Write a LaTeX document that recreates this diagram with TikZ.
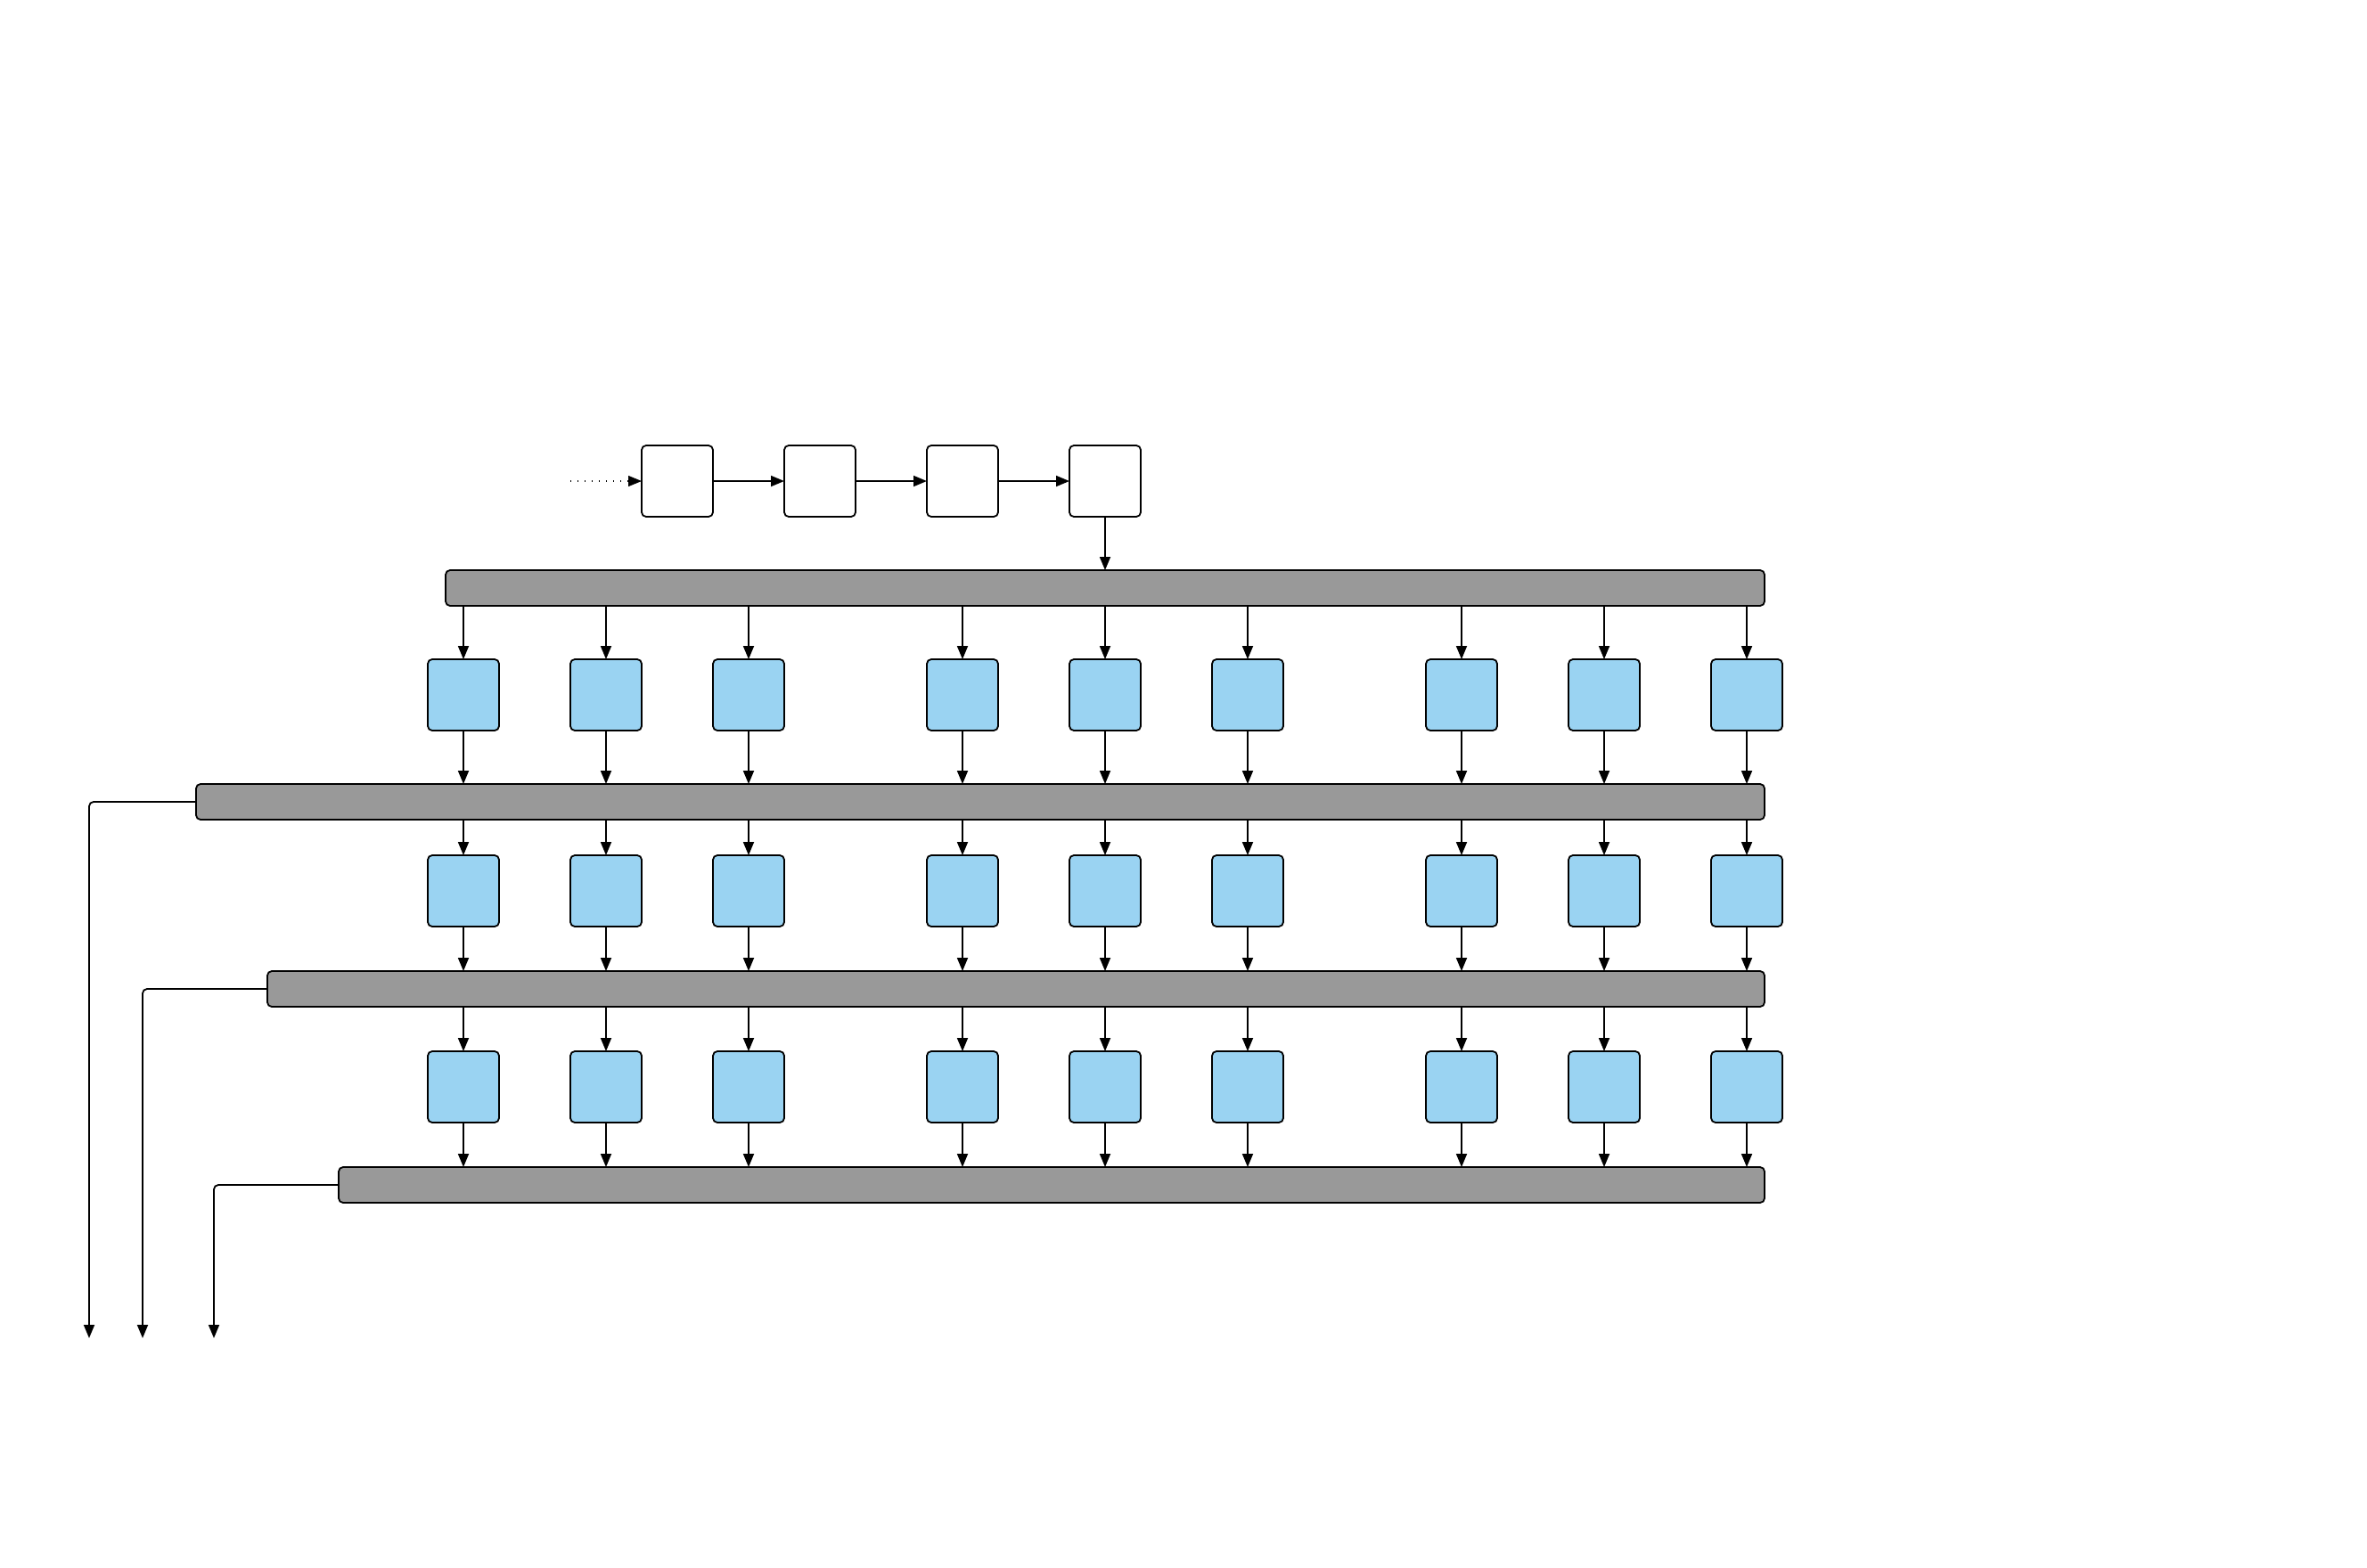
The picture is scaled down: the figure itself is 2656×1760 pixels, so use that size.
\documentclass[tikz,border=0pt]{standalone}
\usetikzlibrary{arrows.meta}
\definecolor{cellblue}{RGB}{154,211,242}
\definecolor{bargray}{RGB}{153,153,153}
\tikzset{
  x=0.5pt, y=-0.5pt,
  every node/.style={inner sep=0pt, outer sep=0pt},
  ln/.style={line width=0.9pt},
  arr/.style={ln, -{Triangle[length=7.5pt,width=6pt]}},
  whitebox/.style={draw, ln, fill=white, rounded corners=2.5pt, minimum width=40pt, minimum height=40pt},
  cell/.style={draw, ln, fill=cellblue, rounded corners=2.5pt, minimum width=40pt, minimum height=40pt},
  bar/.style={draw, ln, fill=bargray, rounded corners=2.5pt, minimum height=20pt},
}
\begin{document}
\begin{tikzpicture}
\useasboundingbox (0,0) rectangle (2656,1760);
% top chain
\coordinate (start) at (640,540);
\node[whitebox] (t1) at (760,540) {};
\node[whitebox] (t2) at (920,540) {};
\node[whitebox] (t3) at (1080,540) {};
\node[whitebox] (t4) at (1240,540) {};
\draw[arr, line width=0.6pt, dash pattern=on 0.6pt off 3.4pt] (start) -- (t1.west);
\draw[arr] (t1) -- (t2);
\draw[arr] (t2) -- (t3);
\draw[arr] (t3) -- (t4);
% bars
\node[bar, minimum width=740pt] (bar1) at (1240,660) {};
\node[bar, minimum width=880pt] (bar2) at (1100,900) {};
\node[bar, minimum width=840pt] (bar3) at (1140,1110) {};
\node[bar, minimum width=800pt] (bar4) at (1180,1330) {};
\draw[arr] (t4.south) -- (t4.south |- bar1.north);
% cells
\foreach \c/\xx in {1/520,2/680,3/840,4/1080,5/1240,6/1400,7/1640,8/1800,9/1960}{
  \node[cell] (a\c) at (\xx,780) {};
  \node[cell] (b\c) at (\xx,1000) {};
  \node[cell] (c\c) at (\xx,1220) {};
  \draw[arr] (a\c.north |- bar1.south) -- (a\c.north);
  \draw[arr] (a\c.south) -- (a\c.south |- bar2.north);
  \draw[arr] (b\c.north |- bar2.south) -- (b\c.north);
  \draw[arr] (b\c.south) -- (b\c.south |- bar3.north);
  \draw[arr] (c\c.north |- bar3.south) -- (c\c.north);
  \draw[arr] (c\c.south) -- (c\c.south |- bar4.north);
}
% outputs
\coordinate (o1) at (100,1502);
\coordinate (o2) at (160,1502);
\coordinate (o3) at (240,1502);
\draw[arr, rounded corners=2.5pt] (bar2.west) -| (o1);
\draw[arr, rounded corners=2.5pt] (bar3.west) -| (o2);
\draw[arr, rounded corners=2.5pt] (bar4.west) -| (o3);
\end{tikzpicture}
\end{document}
